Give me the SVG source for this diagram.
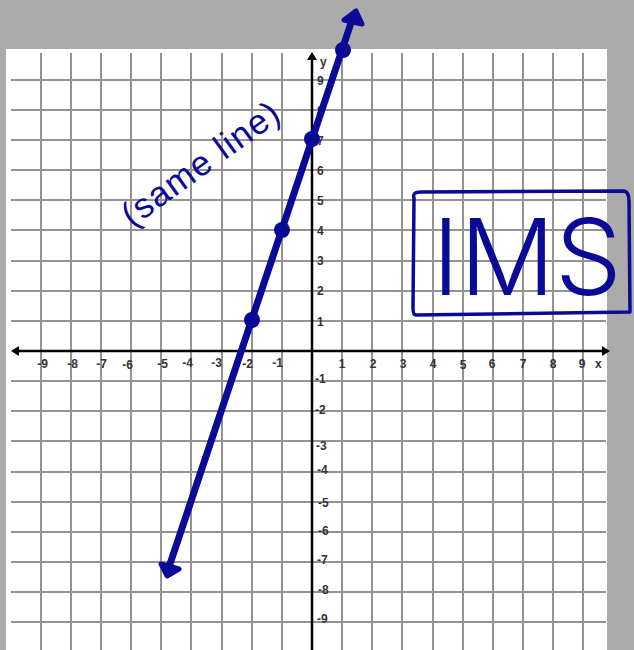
<svg xmlns="http://www.w3.org/2000/svg" width="634" height="650" viewBox="0 0 634 650">
<style>
.grid line{stroke:#939393;stroke-width:2}
.axis{stroke:#000;stroke-width:2.5;fill:none}
.tick{font-family:"Liberation Sans",Arial,sans-serif;font-size:12px;font-weight:bold;fill:#333}
.xn{text-anchor:end}
.xp{text-anchor:middle}
.ink{stroke:#0a0a96;fill:none;stroke-linecap:round;stroke-linejoin:round}
.dot{fill:#0a0a96}
.hand{font-family:"Liberation Sans",Arial,sans-serif;fill:#0a0a96}
</style>
<rect x="0" y="0" width="634" height="650" fill="#ababab"/>
<rect x="6" y="49" width="601" height="601" fill="#fff"/>
<g id="grid" class="grid">
<line x1="41" y1="53" x2="41" y2="650"/><line x1="71" y1="53" x2="71" y2="650"/><line x1="101" y1="53" x2="101" y2="650"/><line x1="131" y1="53" x2="131" y2="650"/><line x1="161" y1="53" x2="161" y2="650"/><line x1="191" y1="53" x2="191" y2="650"/><line x1="222" y1="53" x2="222" y2="650"/><line x1="252" y1="53" x2="252" y2="650"/><line x1="282" y1="53" x2="282" y2="650"/>
<line x1="342" y1="53" x2="342" y2="650"/><line x1="372" y1="53" x2="372" y2="650"/><line x1="402" y1="53" x2="402" y2="650"/><line x1="433" y1="53" x2="433" y2="650"/><line x1="463" y1="53" x2="463" y2="650"/><line x1="493" y1="53" x2="493" y2="650"/><line x1="523" y1="53" x2="523" y2="650"/><line x1="553" y1="53" x2="553" y2="650"/><line x1="583" y1="53" x2="583" y2="650"/>
<line x1="11" y1="80" x2="606" y2="80"/><line x1="11" y1="110" x2="606" y2="110"/><line x1="11" y1="140" x2="606" y2="140"/><line x1="11" y1="170" x2="606" y2="170"/><line x1="11" y1="200" x2="606" y2="200"/><line x1="11" y1="230" x2="606" y2="230"/><line x1="11" y1="261" x2="606" y2="261"/><line x1="11" y1="291" x2="606" y2="291"/><line x1="11" y1="321" x2="606" y2="321"/>
<line x1="11" y1="381" x2="606" y2="381"/><line x1="11" y1="411" x2="606" y2="411"/><line x1="11" y1="441" x2="606" y2="441"/><line x1="11" y1="472" x2="606" y2="472"/><line x1="11" y1="502" x2="606" y2="502"/><line x1="11" y1="532" x2="606" y2="532"/><line x1="11" y1="562" x2="606" y2="562"/><line x1="11" y1="592" x2="606" y2="592"/><line x1="11" y1="622" x2="606" y2="622"/>
</g>
<g id="axes">
<line class="axis" x1="14" y1="351" x2="605" y2="351"/>
<line class="axis" x1="312" y1="56" x2="312" y2="650"/>
<polygon points="11,351 19,346 19,356" fill="#000"/>
<polygon points="610,351 602,346 602,356" fill="#000"/>
<polygon points="312,52 307,60 317,60" fill="#000"/>
</g>
<g id="x-labels" class="tick">
<text class="xn" x="48" y="368">-9</text><text class="xn" x="78" y="368">-8</text><text class="xn" x="107" y="368">-7</text><text class="xn" x="133" y="369">-6</text><text class="xn" x="168" y="368">-5</text><text class="xn" x="193" y="367">-4</text><text class="xn" x="222" y="367">-3</text><text class="xn" x="253" y="368">-2</text><text class="xn" x="283" y="367">-1</text>
<text class="xp" x="342" y="368">1</text><text class="xp" x="373" y="368">2</text><text class="xp" x="403" y="368">3</text><text class="xp" x="433" y="368">4</text><text class="xp" x="463" y="369">5</text><text class="xp" x="492" y="368">6</text><text class="xp" x="523" y="368">7</text><text class="xp" x="553" y="368">8</text><text class="xp" x="582" y="368">9</text>
<text x="595" y="368">x</text>
</g>
<g id="y-labels" class="tick">
<text x="320" y="66">y</text>
<text x="317" y="85">9</text><text x="317" y="115">8</text><text x="317" y="145">7</text><text x="317" y="175">6</text><text x="317" y="205">5</text><text x="317" y="235">4</text><text x="317" y="265">3</text><text x="317" y="295">2</text><text x="317" y="326">1</text>
<text x="315" y="383">-1</text><text x="315" y="414">-2</text><text x="316" y="450">-3</text><text x="317" y="474">-4</text><text x="318" y="507">-5</text><text x="318" y="535">-6</text><text x="317" y="564">-7</text><text x="318" y="594">-8</text><text x="317" y="623">-9</text>
</g>
<g id="connectors">
<line class="ink" x1="168" y1="570" x2="353" y2="17" stroke-width="7"/>
<polygon class="ink dot" points="344,20 356,11 362,24" stroke-width="5"/>
<polygon class="ink dot" points="161,564 167,576 179,569" stroke-width="5"/>
</g>
<g id="point-a"><circle class="dot" cx="252" cy="320" r="8"/></g>
<g id="point-b"><circle class="dot" cx="282" cy="230" r="8"/></g>
<g id="point-c"><circle class="dot" cx="312" cy="139" r="8"/></g>
<g id="point-d"><circle class="dot" cx="343" cy="50" r="8"/></g>
<g id="note">
<text class="hand" x="132" y="228" font-size="35" textLength="186" lengthAdjust="spacing" transform="rotate(-36 132 228)">(same line)</text>
</g>
<g id="ims-box">
<path class="ink" stroke-width="3.5" d="M414,198 Q412,192 421,192 L624,191 Q629,192 629,201 L630,312 L416,315 Q413,315 413,308 Z"/>
<text class="hand" x="432" y="295" font-size="106" textLength="190" lengthAdjust="spacingAndGlyphs" style="font-family:Inter,'Liberation Sans',sans-serif;font-weight:300">IMS</text>
</g>
</svg>
